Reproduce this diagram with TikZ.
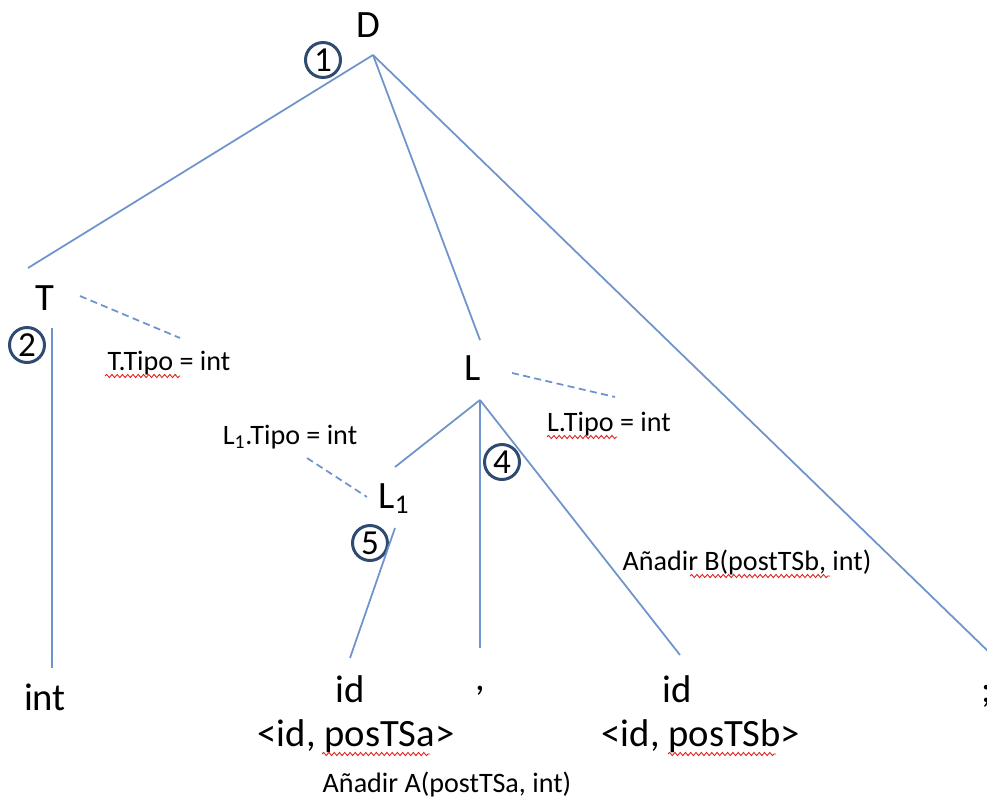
\documentclass[tikz,border=0pt]{standalone}
\usepackage{fontspec}
\setmainfont{Carlito}
\usetikzlibrary{decorations.pathmorphing}
\definecolor{edgec}{HTML}{6F93CB}
\definecolor{ringc}{HTML}{2F4B72}
\definecolor{wavec}{HTML}{E0201B}
\tikzset{
  sym/.style={font=\fontsize{22}{25}\selectfont,inner sep=0pt,anchor=base},
  attr/.style={font=\fontsize{16}{19}\selectfont,inner sep=0pt,anchor=base},
  edge/.style={edgec,line width=1pt},
  link/.style={edgec,line width=1pt,dash pattern=on 4pt off 2.5pt},
  stepno/.style={circle,draw=ringc,fill=white,line width=1.7pt,minimum size=0.7cm,inner sep=0pt,font=\fontsize{20}{22}\selectfont},
  spell/.style={wavec,line width=0.5pt,decorate,decoration={snake,amplitude=0.9pt,segment length=3pt}}
}
\begin{document}
\begin{tikzpicture}[x=0.02cm,y=-0.02cm]
\useasboundingbox (0,0) rectangle (987,805);
% grammar symbols
\node[sym] (nD) at (368,37) {D};
\node[sym] (nT) at (45,310) {T};
\node[sym] (nL) at (473,380) {L};
\node[sym] (nLa) at (394,508) {L$_{\mathrm{1}}$};
\node[sym] (nInt) at (45,710) {int};
\node[sym] (nIdA) at (350,702) {id};
\node[sym] (nComma) at (480,690) {,};
\node[sym] (nIdB) at (677,702) {id};
\node[sym,anchor=base west] (nSemi) at (981,702) {;};
\node[sym] (nLexA) at (356,746) {<id, posTSa>};
\node[sym] (nLexB) at (701,746) {<id, posTSb>};
% attributes and actions
\node[attr] (aT) at (169,370) {T.Tipo = int};
\node[attr] (aL) at (609,431) {L.Tipo = int};
\node[attr] (aLa) at (290,444) {L\textsubscript{1}.Tipo = int};
\node[attr] (actB) at (747,570) {Añadir B(postTSb, int)};
\node[attr] (actA) at (447,792) {Añadir A(postTSa, int)};
% order of evaluation
\node[stepno] (s1) at (323,60) {1};
\node[stepno] (s2) at (27,345) {2};
\node[stepno] (s4) at (502,462) {4};
\node[stepno] (s5) at (370,543) {5};
% branch ends
\coordinate (dTip) at (373,55);
\coordinate (tUp) at (28,268);
\coordinate (tDown) at (52,328);
\coordinate (intUp) at (52,668);
\coordinate (lUp) at (480,340);
\coordinate (lTip) at (480,400);
\coordinate (laUp) at (395,467);
\coordinate (laDown) at (395,528);
\coordinate (idAUp) at (350,658);
\coordinate (commaUp) at (480,648);
\coordinate (idBUp) at (680,655);
\coordinate (semiUp) at (992,655);
% tree
\draw[edge] (dTip) -- (tUp);
\draw[edge] (dTip) -- (lUp);
\draw[edge] (dTip) -- (semiUp);
\draw[edge] (tDown) -- (intUp);
\draw[edge] (lTip) -- (laUp);
\draw[edge] (lTip) -- (commaUp);
\draw[edge] (lTip) -- (idBUp);
\draw[edge] (laDown) -- (idAUp);
% attribute links
\coordinate (tLink) at (80,296);
\coordinate (aTLink) at (180,338);
\coordinate (lLink) at (512,373);
\coordinate (aLLink) at (615,397);
\coordinate (aLaLink) at (307,458);
\coordinate (laLink) at (367,497);
\draw[link] (tLink) -- (aTLink);
\draw[link] (lLink) -- (aLLink);
\draw[link] (aLaLink) -- (laLink);
% spell-check marks
\draw[spell] (105,376) -- (180,376);
\draw[spell] (547,437) -- (617,437);
\draw[spell] (322,754) -- (430,754);
\draw[spell] (668,754) -- (776,754);
\draw[spell] (690,576) -- (830,576);
\end{tikzpicture}
\end{document}
